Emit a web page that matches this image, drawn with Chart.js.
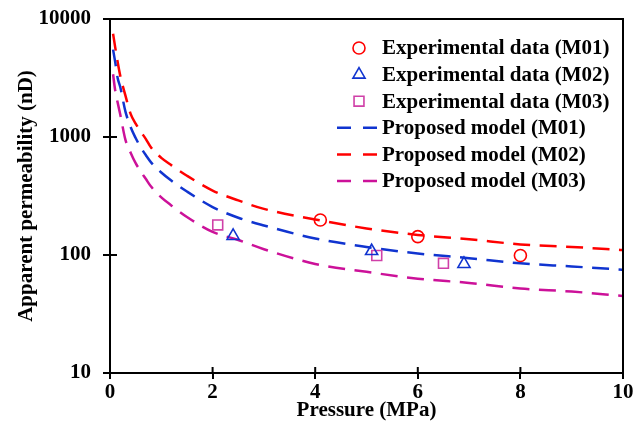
<!DOCTYPE html>
<html lang="en">
<head>
<meta charset="UTF-8">
<title>Apparent permeability vs pressure</title>
<style>
  html, body { margin: 0; padding: 0; background: #fff; }
</style>
</head>
<body>
<canvas id="myChart" width="644" height="439"></canvas>
<script src="https://cdn.jsdelivr.net/npm/chart.js"></script>
<script>
// experimental points (pressure MPa, permeability nD)
const expM01P = [4.1, 6.0, 8.0];
const expM01K = [198, 143, 99];
const expM02P = [2.4, 5.1, 6.9];
const expM02K = [145, 108, 84];
const expM03P = [2.1, 5.2, 6.5];
const expM03K = [180, 99, 85];

// model curves
const modelP    = [0.06, 0.1, 0.15, 0.2, 0.3, 0.4, 0.5, 0.6, 0.7, 0.8, 1, 1.2, 1.5, 2, 2.5, 3, 4, 5, 6, 7, 8, 9, 10];
const modelM01K = [5500, 4350, 3150, 2650, 1650, 1220, 980, 815, 700, 610, 500, 425, 345, 255, 207, 178, 138, 117, 103, 94, 85, 80, 75];
const modelM02K = [7500, 5800, 4300, 3300, 2250, 1580, 1300, 1110, 960, 815, 665, 575, 470, 352, 290, 246, 200, 168, 148, 136, 123, 117, 110];
const modelM03K = [3400, 2500, 1950, 1550, 950, 740, 600, 510, 440, 380, 308, 262, 210, 157, 134, 112, 84, 72, 63, 58, 52, 49, 45];

const labels = [
  'Experimental data (M01)', 'Experimental data (M02)', 'Experimental data (M03)',
  'Proposed model (M01)', 'Proposed model (M02)', 'Proposed model (M03)'
];
const xTicks = [0, 2, 4, 6, 8, 10];
const yTicks = [10, 100, 1000, 10000];

const RED = '#ff0000', BLUE = '#1034d0', MAG = '#cc1199', PINK = '#d040a8';
const FONT = { family: "'Liberation Serif', 'Times New Roman', serif", size: 21, weight: 'bold' };

const pts = (xs, ys) => xs.map((x, i) => ({ x: x, y: ys[i] }));

function expSet(label, xs, ys, color, style, r) {
  return {
    label: label, data: pts(xs, ys), showLine: false,
    pointStyle: style, pointRadius: r, pointBorderWidth: 1.6,
    pointBorderColor: color, pointBackgroundColor: 'rgba(0,0,0,0)',
    borderColor: color, order: 0
  };
}
function modelSet(label, ys, color) {
  return {
    label: label, data: pts(modelP, ys), showLine: true,
    borderColor: color, borderWidth: 2.5, borderDash: [17, 9.5],
    pointRadius: 0, cubicInterpolationMode: 'monotone', order: 1
  };
}

function noPad(s) {
  s.paddingTop = 0; s.paddingBottom = 0; s.paddingLeft = 0; s.paddingRight = 0;
}

// frame, inward ticks and legend
const extras = {
  id: 'extras',
  afterDraw(chart) {
    const ctx = chart.ctx;
    const a = chart.chartArea;
    const xs = chart.scales.x, ys = chart.scales.y;
    ctx.save();
    ctx.strokeStyle = '#000';
    ctx.lineWidth = 2;
    ctx.strokeRect(a.left, a.top, a.right - a.left, a.bottom - a.top);
    ctx.beginPath();
    xTicks.forEach(v => {
      const px = xs.getPixelForValue(v);
      ctx.moveTo(px, a.bottom); ctx.lineTo(px, a.bottom - 6);
    });
    yTicks.forEach(v => {
      const py = ys.getPixelForValue(v);
      ctx.moveTo(a.left, py); ctx.lineTo(a.left + 7, py);
    });
    ctx.stroke();

    // legend
    ctx.font = 'bold 21px ' + FONT.family;
    ctx.textBaseline = 'middle';
    chart.data.datasets.forEach((ds, i) => {
      const y = a.top + 29 + i * 26.6;
      if (ds.showLine) {
        ctx.strokeStyle = ds.borderColor;
        ctx.lineWidth = 2.5;
        ctx.setLineDash([14, 12]);
        ctx.beginPath();
        ctx.moveTo(a.right - 286, y); ctx.lineTo(a.right - 245, y);
        ctx.stroke();
        ctx.setLineDash([]);
      } else {
        ctx.strokeStyle = ds.pointBorderColor;
        ctx.fillStyle = 'rgba(0,0,0,0)';
        ctx.lineWidth = 1.6;
        Chart.helpers.drawPoint(ctx, { pointStyle: ds.pointStyle, radius: ds.pointRadius, borderWidth: 1.6, rotation: 0 }, a.right - 264, y);
      }
      ctx.fillStyle = '#000';
      ctx.fillText(ds.label, a.right - 241, y + 1);
    });
    ctx.restore();
  }
};

const ctx = document.getElementById('myChart');
new Chart(ctx, {
  type: 'scatter',
  data: {
    datasets: [
      expSet(labels[0], expM01P, expM01K, RED, 'circle', 6),
      expSet(labels[1], expM02P, expM02K, BLUE, 'triangle', 7),
      expSet(labels[2], expM03P, expM03K, PINK, 'rect', 7),
      modelSet(labels[3], modelM01K, BLUE),
      modelSet(labels[4], modelM02K, RED),
      modelSet(labels[5], modelM03K, MAG)
    ]
  },
  options: {
    responsive: false,
    animation: false,
    layout: { padding: { left: 10, top: 19, right: 21, bottom: 0 } },
    plugins: { legend: { display: false }, tooltip: { enabled: false } },
    scales: {
      x: {
        type: 'linear', min: 0, max: 10,
        afterBuildTicks: s => { s.ticks = xTicks.map(v => ({ value: v })); },
        afterFit: s => { s.height = 66; noPad(s); },
        grid: { drawOnChartArea: false, drawTicks: true, tickLength: 6, color: '#000', lineWidth: 2 },
        border: { display: true, color: '#000', width: 2 },
        ticks: { color: '#000', font: FONT, padding: 1, maxRotation: 0 },
        title: { display: true, text: 'Pressure (MPa)', color: '#000', font: FONT, padding: { top: 0, bottom: 16 } }
      },
      y: {
        type: 'logarithmic', min: 10, max: 10000,
        afterBuildTicks: s => { s.ticks = yTicks.map(v => ({ value: v })); },
        afterFit: s => { s.width = 100; noPad(s); },
        grid: { drawOnChartArea: false, drawTicks: true, tickLength: 7, color: '#000', lineWidth: 2 },
        border: { display: true, color: '#000', width: 2 },
        ticks: { color: '#000', font: FONT, padding: 12, callback: v => String(v) },
        title: { display: true, text: 'Apparent permeability (nD)', color: '#000', font: FONT, padding: { top: 4, bottom: 0 } }
      }
    }
  },
  plugins: [extras]
});
</script>
</body>
</html>
